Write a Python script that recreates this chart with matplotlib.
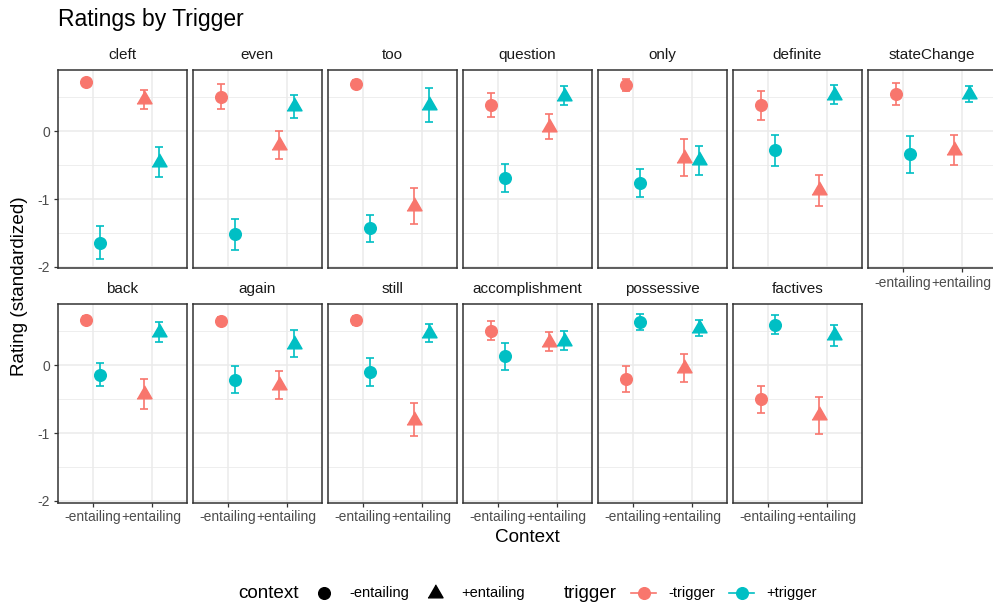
import numpy as np
import matplotlib
matplotlib.use('Agg')
import matplotlib.pyplot as plt
from matplotlib.lines import Line2D

plt.rcParams['font.family'] = ['Liberation Sans', 'DejaVu Sans']

# facet order (facet_wrap, 7 columns)
triggers = ['cleft', 'even', 'too', 'question', 'only', 'definite', 'stateChange',
            'back', 'again', 'still', 'accomplishment', 'possessive', 'factives']
contexts = ['-entailing', '+entailing']
trig_levels = ['-trigger', '+trigger']

# mean standardized rating and error half-width per trigger
negent_negtrig = [0.72, 0.51, 0.70, 0.39, 0.68, 0.38, 0.55, 0.67, 0.65, 0.66, 0.51, -0.20, -0.50]
negent_negtrig_err = [0.05, 0.18, 0.06, 0.18, 0.09, 0.21, 0.16, 0.06, 0.06, 0.06, 0.14, 0.19, 0.20]
negent_postrig = [-1.64, -1.52, -1.43, -0.69, -0.76, -0.28, -0.34, -0.14, -0.21, -0.10, 0.13, 0.64, 0.60]
negent_postrig_err = [0.25, 0.23, 0.20, 0.21, 0.21, 0.23, 0.27, 0.17, 0.20, 0.20, 0.20, 0.12, 0.14]
posent_negtrig = [0.47, -0.20, -1.10, 0.07, -0.39, -0.87, -0.28, -0.42, -0.29, -0.80, 0.35, -0.04, -0.74]
posent_negtrig_err = [0.14, 0.21, 0.26, 0.19, 0.27, 0.23, 0.22, 0.22, 0.21, 0.25, 0.14, 0.21, 0.27]
posent_postrig = [-0.45, 0.37, 0.39, 0.52, -0.43, 0.54, 0.55, 0.49, 0.32, 0.48, 0.36, 0.55, 0.44]
posent_postrig_err = [0.22, 0.17, 0.25, 0.14, 0.21, 0.14, 0.12, 0.15, 0.20, 0.13, 0.14, 0.12, 0.15]

cells = [('-entailing', '-trigger', negent_negtrig, negent_negtrig_err),
         ('-entailing', '+trigger', negent_postrig, negent_postrig_err),
         ('+entailing', '-trigger', posent_negtrig, posent_negtrig_err),
         ('+entailing', '+trigger', posent_postrig, posent_postrig_err)]

colors = {'-trigger': '#F8766D', '+trigger': '#00BFC4'}
tri = [(0, 1), (0.866, -0.5), (-0.866, -0.5)]
shapes = {'-entailing': 'o', '+entailing': tri}
msizes = {'-entailing': 8.4, '+entailing': 12.5}
dodge = {'-trigger': -0.125, '+trigger': 0.125}

# shared y range, 5% padding like ggplot
lows = [m - e for _, _, ms, es in cells for m, e in zip(ms, es)]
highs = [m + e for _, _, ms, es in cells for m, e in zip(ms, es)]
pad = 0.05 * (max(highs) - min(lows))
ylim = (min(lows) - pad, max(highs) + pad)

W, H = 993, 606
fig = plt.figure(figsize=(W / 100, H / 100), dpi=100)

def box(l, t, w, h):
    return [l / W, 1 - (t + h) / H, w / W, h / H]

grid_col = '#EBEBEB'
for i, name in enumerate(triggers):
    row, col = divmod(i, 7)
    left = 57.7 + col * 135
    top = 70 if row == 0 else 304
    ax = fig.add_axes(box(left, top, 129, 198.5))
    x = np.arange(1, len(contexts) + 1)
    for ctx, trg, means, errs in cells:
        xi = contexts.index(ctx) + 1 + dodge[trg]
        ax.errorbar(xi, means[i], yerr=errs[i], fmt='none', ecolor=colors[trg],
                    elinewidth=1.2, capsize=3.2, capthick=1.2, zorder=3)
        ax.plot(xi, means[i], marker=shapes[ctx], ms=msizes[ctx], color=colors[trg],
                linestyle='none', zorder=4)
    ax.set_xlim(0.4, 2.6)
    ax.set_ylim(*ylim)
    ax.set_xticks(x)
    ax.set_yticks([-2, -1, 0])
    ax.set_yticks([-1.5, -0.5, 0.5], minor=True)
    ax.grid(True, which='major', color=grid_col, lw=1.1, zorder=0)
    ax.grid(True, which='minor', axis='y', color=grid_col, lw=0.6, zorder=0)
    ax.set_axisbelow(True)
    for s in ax.spines.values():
        s.set_color('#333333')
        s.set_linewidth(1.1)
    ax.tick_params(which='minor', length=0)
    ax.tick_params(which='major', color='#333333', length=3.2, width=0.9,
                   labelcolor='#4D4D4D', labelsize=10, pad=2.5)
    if row == 1 or i == 6:
        ax.set_xticklabels(contexts)
    else:
        ax.set_xticklabels([])
        ax.tick_params(axis='x', length=0)
    if col == 0:
        ax.set_yticklabels(['-2', '-1', '0'])
    else:
        ax.set_yticklabels([])
        ax.tick_params(axis='y', length=0)
    ax.annotate(name, xy=(0.5, 1), xycoords='axes fraction', xytext=(0, 11),
                textcoords='offset points', ha='center', va='center',
                fontsize=11, color='#1A1A1A')

fig.text(58 / W, 1 - 26 / H, 'Ratings by Trigger', fontsize=16.5, va='baseline', ha='left')
fig.text(20 / W, 1 - 286.5 / H, 'Rating (standardized)', fontsize=13.6, rotation=90,
         ha='center', va='center')
fig.text(527 / W, 1 - 538 / H, 'Context', fontsize=13.6, ha='center', va='center')

# legend row at the bottom
ly = 1 - 593 / H
def key(px, **kw):
    fig.add_artist(Line2D([px / W], [ly], transform=fig.transFigure, linestyle='none', **kw))

fig.text(238 / W, ly, 'context', fontsize=13.6, va='center')
key(324, marker='o', ms=8.4, color='black')
fig.text(349 / W, ly, contexts[0], fontsize=10.5, va='center')
key(435, marker=tri, ms=12.5, color='black')
fig.text(461 / W, ly, contexts[1], fontsize=10.5, va='center')

fig.text(564 / W, ly, 'trigger', fontsize=13.6, va='center')
for cx, lab, lx in [(643.5, trig_levels[0], 668), (741.5, trig_levels[1], 766)]:
    fig.add_artist(Line2D([(cx - 12.5) / W, (cx + 12.5) / W], [ly, ly], transform=fig.transFigure,
                          color=colors[lab], lw=1.2))
    key(cx, marker='o', ms=8.4, color=colors[lab])
    fig.text(lx / W, ly, lab, fontsize=10.5, va='center')

fig.savefig('out.png', dpi=100)
